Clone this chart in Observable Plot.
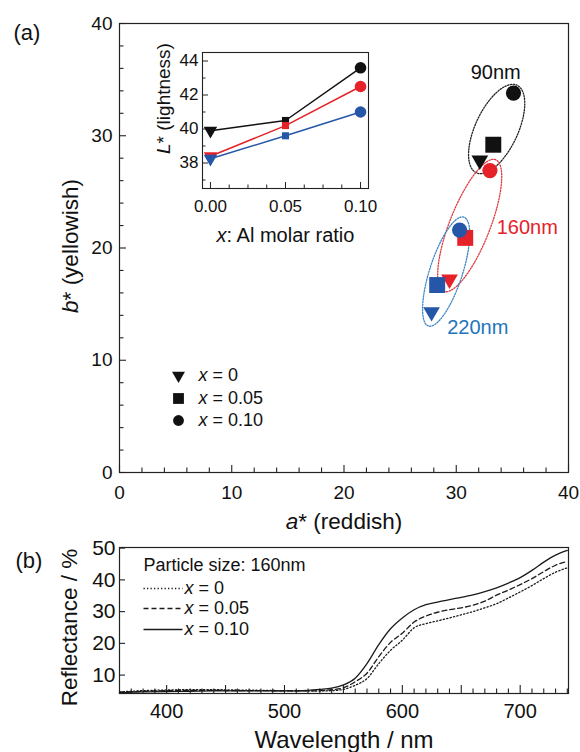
<!DOCTYPE html>
<html><head><meta charset="utf-8">
<script src="https://cdn.jsdelivr.net/npm/d3@7"></script>
<script src="https://cdn.jsdelivr.net/npm/@observablehq/plot@0.6"></script>
<style>
body{margin:0;background:#fff;}
#wrap{position:relative;width:580px;height:752px;overflow:hidden;font-family:"Liberation Sans",Arial,sans-serif;}
#wrap > div{position:absolute;}
svg{overflow:visible;}
</style></head><body>
<div id="wrap"><div id="pa" style="left:0;top:0"></div><div id="pin" style="left:140px;top:30px"></div><div id="pb" style="left:0;top:530px"></div></div>
<script>
// ---------- data ----------
const sizes = ["90nm", "160nm", "220nm"];
const sizeColors = ["#111111", "#e5222a", "#2656a8"];
const ellipseColors = ["#222222", "#e03a40", "#3d86c4"];
const labelColors = ["#111111", "#e5222a", "#2274bd"];
const xRatio = [0, 0.05, 0.10];
const ratioLabels = ["x = 0", "x = 0.05", "x = 0.10"];
// a*, b* (panel a)
const aStar90 = [32.1, 33.3, 35.1];
const bStar90 = [27.8, 29.2, 33.8];
const aStar160 = [29.4, 30.8, 33.0];
const bStar160 = [17.2, 20.9, 26.9];
const aStar220 = [27.8, 28.3, 30.3];
const bStar220 = [14.3, 16.7, 21.6];
// L* (inset)
const L90 = [39.9, 40.5, 43.6];
const L160 = [38.4, 40.2, 42.5];
const L220 = [38.25, 39.6, 41.0];
// ellipse annotations (centre, semi-axes in a*/b* units, tilt in degrees)
const ellCenterA = [33.6, 31.2, 29.1];
const ellCenterB = [30.6, 22.0, 17.9];
const ellRadiusMajor = [4.3, 6.3, 5.1];
const ellRadiusMinor = [1.9, 1.8, 1.46];
const ellAngle = [65, 68.5, 72];
// ticks
const aTicks = [0, 10, 20, 30, 40];
const bTicks = [0, 10, 20, 30, 40];
const insetXTicks = [0, 0.05, 0.10];
const insetYTicks = [38, 40, 42, 44];
const wlTicks = [400, 500, 600, 700];
const reflTicks = [10, 20, 30, 40, 50];
// reflectance spectra, particle size 160nm (panel b)
const wavelength = [360, 380, 400, 420, 440, 460, 480, 500, 520, 530, 540, 550, 560, 570, 580, 590, 600, 610, 620, 630, 640, 650, 660, 670, 680, 690, 700, 710, 720, 730, 740];
const refl_x0 = [4.7, 5.1, 5.3, 5.4, 5.4, 5.3, 5.2, 5.1, 5.0, 5.0, 5.1, 5.5, 6.8, 8.9, 13.6, 17.8, 21.0, 24.9, 26.2, 27.1, 28.0, 29.0, 30.0, 31.2, 32.5, 34.3, 36.2, 38.2, 40.4, 42.4, 43.8];
const refl_x005 = [4.6, 4.9, 5.1, 5.2, 5.2, 5.1, 5.1, 5.0, 5.0, 5.1, 5.4, 6.0, 7.9, 10.6, 15.8, 20.3, 23.2, 26.7, 28.6, 29.8, 30.6, 31.2, 32.0, 33.3, 35.2, 36.8, 38.5, 40.4, 42.6, 44.6, 45.8];
const refl_x010 = [4.5, 4.7, 4.8, 4.9, 5.0, 5.0, 5.0, 5.0, 5.2, 5.5, 5.9, 6.9, 9.0, 13.6, 19.6, 24.6, 28.0, 30.6, 32.2, 33.0, 33.8, 34.5, 35.3, 36.3, 37.5, 39.0, 40.7, 43.0, 45.6, 47.8, 49.3];

// ---------- tables ----------
const aStars = [aStar90, aStar160, aStar220];
const bStars = [bStar90, bStar160, bStar220];
const Ls = [L90, L160, L220];
const points = [];
sizes.forEach((s, i) => xRatio.forEach((r, j) => points.push({size: s, si: i, ri: j, ratio: r, a: aStars[i][j], b: bStars[i][j], L: Ls[i][j]})));
const spectra = [refl_x0, refl_x005, refl_x010].map(arr => wavelength.map((w, k) => ({w, R: arr[k]})));

const ellipses = sizes.map((s, i) => ({size: s, i, ca: ellCenterA[i], cb: ellCenterB[i], ra: ellRadiusMajor[i], rb: ellRadiusMinor[i], angle: ellAngle[i]}));
function ellipsePts(e) {
  const t = e.angle * Math.PI / 180, out = [];
  for (let k = 0; k <= 144; k++) {
    const u = k / 144 * 2 * Math.PI, px = e.ra * Math.cos(u), py = e.rb * Math.sin(u);
    out.push({a: e.ca + px * Math.cos(t) - py * Math.sin(t), b: e.cb + px * Math.sin(t) + py * Math.cos(t)});
  }
  return out;
}

// ---------- symbols ----------
const triDown = {draw(ctx, size) { const y = Math.sqrt(size / (Math.sqrt(3) * 3)); ctx.moveTo(0, 2 * y); ctx.lineTo(Math.sqrt(3) * y, -y); ctx.lineTo(-Math.sqrt(3) * y, -y); ctx.closePath(); }};
const symbols = [triDown, "square", "circle"];
const legLine = {draw(ctx) { ctx.moveTo(-19.5, 0); ctx.lineTo(19.5, 0); }};

const FONT = "'Liberation Sans', Arial, sans-serif";
const AX = "#222";
const MID = {textAnchor: "middle", lineAnchor: "middle"};
const START = {textAnchor: "start", lineAnchor: "middle"};

function italicize(svg) {
  svg.querySelectorAll("text").forEach(t => {
    if (t.children.length) return;
    const s = t.textContent;
    const m = s.match(/^(a|b|L|x)(\*| =|:)/);
    if (!m) return;
    t.textContent = "";
    const ns = "http://www.w3.org/2000/svg";
    const it = document.createElementNS(ns, "tspan");
    it.setAttribute("font-style", "italic");
    it.textContent = m[1];
    t.appendChild(it);
    t.appendChild(document.createTextNode(s.slice(1)));
  });
}

// ---------- panel (a) ----------
{
  const W = 580, H = 530, ML = 119, MR = 12, MT = 23, MB = 58;
  const FW = W - ML - MR, FH = H - MT - MB;
  const marks = [
    Plot.frame({stroke: AX, strokeWidth: 1.2}),
    Plot.tickX(d3.range(0, 41, 2).filter(d => d % 10), {x: d => d, insetTop: FH - 4.5, stroke: AX, strokeWidth: 1.1}),
    Plot.tickX(aTicks, {x: d => d, insetTop: FH - 7, stroke: AX, strokeWidth: 1.1}),
    Plot.tickY(d3.range(0, 41, 2).filter(d => d % 10), {y: d => d, insetRight: FW - 4.5, stroke: AX, strokeWidth: 1.1}),
    Plot.tickY(bTicks, {y: d => d, insetRight: FW - 7, stroke: AX, strokeWidth: 1.1}),
    Plot.axisX({ticks: aTicks, tickSize: 0, tickPadding: 13, fontSize: 19, label: null}),
    Plot.axisY({ticks: bTicks, tickSize: 0, tickPadding: 7, fontSize: 19, label: null}),
    Plot.text(["a* (reddish)"], {frameAnchor: "bottom", dy: 49, fontSize: 22.5, ...MID}),
    Plot.text(["b* (yellowish)"], {frameAnchor: "left", dx: -49, dy: -2, rotate: -90, fontSize: 22.5, ...MID}),
    Plot.text(["(a)"], {frameAnchor: "top-left", dx: -106, dy: 9, fontSize: 22, ...START})
  ];
  ellipses.forEach(e => {
    marks.push(Plot.line(ellipsePts(e), {x: "a", y: "b", stroke: ellipseColors[e.i], strokeWidth: 1.3, strokeDasharray: "1.3,1.5"}));
  });
  const ellLabelOffsets = [[-1, -56, "middle"], [27, 2, "start"], [1, 56, "start"]];
  ellipses.forEach(e => {
    const [dx, dy, ta] = ellLabelOffsets[e.i];
    marks.push(Plot.text([e], {x: "ca", y: "cb", text: "size", dx, dy, textAnchor: ta, lineAnchor: "middle", fill: labelColors[e.i], fontSize: 20}));
  });
  const rDot = [6.2, 9, 7.6];
  sizes.forEach((s, i) => {
    xRatio.forEach((r, j) => {
      marks.push(Plot.dot(points.filter(p => p.si === i && p.ri === j), {x: "a", y: "b", symbol: symbols[j], r: rDot[j], fill: sizeColors[i], stroke: "none"}));
    });
  });
  // legend
  const legDy = [-97, -74, -52];
  const legR = [4.8, 6.1, 5.4];
  ratioLabels.forEach((lab, j) => {
    marks.push(Plot.dot([lab], {frameAnchor: "bottom-left", dx: 59, dy: legDy[j], symbol: symbols[j], r: legR[j], fill: "#111", stroke: "none"}));
    marks.push(Plot.text([lab], {frameAnchor: "bottom-left", dx: 79, dy: legDy[j], fontSize: 18, ...START}));
  });
  const svg = Plot.plot({
    width: W, height: H, marginLeft: ML, marginRight: MR, marginTop: MT, marginBottom: MB,
    x: {domain: [0, 40]}, y: {domain: [0, 40]},
    style: {fontFamily: FONT, fontSize: "19px", color: "#111", background: "transparent"},
    marks
  });
  italicize(svg);
  document.getElementById("pa").appendChild(svg);
}

// ---------- inset ----------
{
  const W = 240, H = 230, ML = 62, MR = 12, MT = 22, MB = 72;
  const FW = W - ML - MR, FH = H - MT - MB;
  const marks = [
    Plot.frame({stroke: AX, strokeWidth: 1.1}),
    Plot.tickX([0.0125, 0.025, 0.0375, 0.0625, 0.075, 0.0875], {x: d => d, insetTop: FH - 3.5, stroke: AX, strokeWidth: 1}),
    Plot.tickX(insetXTicks, {x: d => d, insetTop: FH - 6, stroke: AX, strokeWidth: 1}),
    Plot.tickY([37, 39, 41, 43], {y: d => d, insetRight: FW - 3.5, stroke: AX, strokeWidth: 1}),
    Plot.tickY(insetYTicks, {y: d => d, insetRight: FW - 6, stroke: AX, strokeWidth: 1}),
    Plot.axisX({ticks: insetXTicks, tickFormat: d3.format(".2f"), tickSize: 0, tickPadding: 11, fontSize: 17, label: null}),
    Plot.axisY({ticks: insetYTicks, tickSize: 0, tickPadding: 4, fontSize: 17, label: null}),
    Plot.text(["x: Al molar ratio"], {frameAnchor: "bottom", dy: 47, fontSize: 20, ...MID}),
    Plot.text(["L* (lightness)"], {frameAnchor: "left", dx: -39, dy: -22, rotate: -90, fontSize: 19, ...MID})
  ];
  const rIn = [5.0, 4.0, 5.8];
  sizes.forEach((s, i) => {
    const pts = points.filter(p => p.si === i);
    marks.push(Plot.line(pts, {x: "ratio", y: "L", stroke: sizeColors[i], strokeWidth: 1.5}));
  });
  sizes.forEach((s, i) => {
    xRatio.forEach((r, j) => {
      marks.push(Plot.dot(points.filter(p => p.si === i && p.ri === j), {x: "ratio", y: "L", symbol: symbols[j], r: rIn[j], fill: sizeColors[i], stroke: "none"}));
    });
  });
  const svg = Plot.plot({
    width: W, height: H, marginLeft: ML, marginRight: MR, marginTop: MT, marginBottom: MB,
    x: {domain: [-0.0053, 0.1053]}, y: {domain: [36.5, 44.5]},
    style: {fontFamily: FONT, fontSize: "17px", color: "#111", background: "transparent"},
    marks
  });
  italicize(svg);
  document.getElementById("pin").appendChild(svg);
}

// ---------- panel (b) ----------
{
  const W = 580, H = 222, ML = 119, MR = 12, MT = 17, MB = 59;
  const FW = W - ML - MR, FH = H - MT - MB;
  const dashes = [["1.3,2.2"], ["5,3"], [null]];
  const marks = [
    Plot.frame({stroke: AX, strokeWidth: 1.2}),
    Plot.tickX(d3.range(370, 741, 10).filter(d => d % 50), {x: d => d, insetTop: FH - 4.5, stroke: AX, strokeWidth: 1.1}),
    Plot.tickX(d3.range(400, 741, 50), {x: d => d, insetTop: FH - 8, stroke: AX, strokeWidth: 1.1}),
    Plot.tickY(reflTicks, {y: d => d, insetRight: FW - 6, stroke: AX, strokeWidth: 1.1}),
    Plot.axisX({ticks: wlTicks, tickSize: 0, tickPadding: 10, fontSize: 20, label: null}),
    Plot.axisY({ticks: reflTicks, tickSize: 0, tickPadding: 4, fontSize: 21, label: null}),
    Plot.text(["Wavelength / nm"], {frameAnchor: "bottom", dy: 47, fontSize: 24, ...MID}),
    Plot.text(["Reflectance / %"], {frameAnchor: "left", dx: -50, dy: 7, rotate: -90, fontSize: 22.5, ...MID}),
    Plot.text(["(b)"], {frameAnchor: "top-left", dx: -104, dy: 13, fontSize: 22, ...START}),
    Plot.text(["Particle size: 160nm"], {frameAnchor: "top-left", dx: 24, dy: 18, fontSize: 18, ...START})
  ];
  spectra.forEach((sp, j) => {
    marks.push(Plot.line(sp, {x: "w", y: "R", stroke: "#1a1a1a", strokeWidth: 1.3, strokeDasharray: dashes[j][0], curve: "monotone-x"}));
  });
  const legDy = [41, 61, 82];
  ratioLabels.forEach((lab, j) => {
    marks.push(Plot.dot([lab], {frameAnchor: "top-left", dx: 43.5, dy: legDy[j], symbol: legLine, fill: "none", stroke: "#1a1a1a", strokeWidth: 1.3, strokeDasharray: dashes[j][0]}));
    marks.push(Plot.text([lab], {frameAnchor: "top-left", dx: 65, dy: legDy[j], fontSize: 18, ...START}));
  });
  const svg = Plot.plot({
    width: W, height: H, marginLeft: ML, marginRight: MR, marginTop: MT, marginBottom: MB,
    x: {domain: [360, 741]}, y: {domain: [4.2, 50.2]},
    style: {fontFamily: FONT, fontSize: "20px", color: "#111", background: "transparent"},
    marks
  });
  italicize(svg);
  document.getElementById("pb").appendChild(svg);
}
</script>
</body></html>
